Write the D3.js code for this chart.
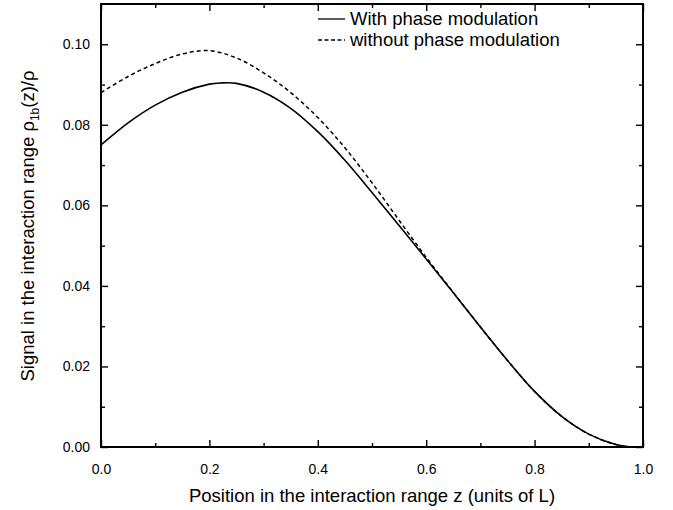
<!DOCTYPE html>
<html>
<head>
<meta charset="utf-8">
<script src="https://cdn.jsdelivr.net/npm/d3@7"></script>
<style>
  body { margin: 0; background: #fff; }
  text { font-family: "Liberation Sans", Arial, sans-serif; fill: #000; }
</style>
</head>
<body>
<div id="chart"></div>
<script>
// Signal curves (z in units of L)
const zWith = [0, 0.05, 0.1, 0.15, 0.2, 0.22, 0.25, 0.3, 0.35, 0.4, 0.45, 0.5, 0.55, 0.6, 0.65, 0.7, 0.75, 0.8, 0.85, 0.9, 0.95, 0.98, 1.0];
const withPM = [0.0750, 0.0805, 0.0849, 0.0881, 0.0901, 0.0904, 0.0903, 0.0881, 0.0841, 0.0783, 0.0712, 0.0632, 0.0550, 0.0467, 0.0383, 0.0298, 0.0215, 0.0138, 0.0076, 0.0032, 0.0006, 0.0, 0.0];

const zWithout = [0, 0.05, 0.1, 0.15, 0.2, 0.25, 0.3, 0.35, 0.4, 0.45, 0.5, 0.55, 0.6, 0.65, 0.7, 0.75, 0.8, 0.85, 0.9, 0.95, 0.98, 1.0];
const withoutPM = [0.0880, 0.0920, 0.0952, 0.0976, 0.0984, 0.0966, 0.0929, 0.0880, 0.0818, 0.0743, 0.0656, 0.0563, 0.0471, 0.0384, 0.0298, 0.0215, 0.0138, 0.0076, 0.0032, 0.0006, 0.0, 0.0];

const xTicks = [0, 0.2, 0.4, 0.6, 0.8, 1.0];
const yTicks = [0, 0.02, 0.04, 0.06, 0.08, 0.10];
const legendLabels = ["With phase modulation", "without phase modulation"];

const width = 673, height = 510;
const margin = { top: 4, left: 101 };
const innerW = 643 - margin.left;
const innerH = 447 - margin.top;

const svg = d3.select("#chart").append("svg")
    .attr("width", width)
    .attr("height", height);

const g = svg.append("g")
    .attr("transform", `translate(${margin.left},${margin.top})`);

const x = d3.scaleLinear().domain([0, 1]).range([0, innerW]);
const y = d3.scaleLinear().domain([0, 0.11]).range([innerH, 0]);

// minor ticks sit half way between the labelled ones
const xMinor = d3.range(0.1, 1.0, 0.2);
const yMinor = d3.range(0.01, 0.11, 0.02);

function axisStyle(sel) {
    sel.select(".domain").remove();
    sel.selectAll("line").attr("stroke", "#000").attr("stroke-width", 1.4);
    sel.selectAll("text").style("font-size", "14px");
}

// bottom
g.append("g")
    .attr("transform", `translate(0,${innerH})`)
    .call(d3.axisBottom(x).tickValues(xTicks).tickFormat(d3.format(".1f")).tickSizeInner(-7).tickPadding(17))
    .call(axisStyle);
g.append("g")
    .attr("transform", `translate(0,${innerH})`)
    .call(d3.axisBottom(x).tickValues(xMinor).tickFormat("").tickSizeInner(-4))
    .call(axisStyle);
// top
g.append("g")
    .call(d3.axisTop(x).tickValues(xTicks).tickFormat("").tickSizeInner(-7))
    .call(axisStyle);
g.append("g")
    .call(d3.axisTop(x).tickValues(xMinor).tickFormat("").tickSizeInner(-4))
    .call(axisStyle);
// left
g.append("g")
    .call(d3.axisLeft(y).tickValues(yTicks).tickFormat(d3.format(".2f")).tickSizeInner(-7).tickPadding(11))
    .call(axisStyle);
g.append("g")
    .call(d3.axisLeft(y).tickValues(yMinor).tickFormat("").tickSizeInner(-4))
    .call(axisStyle);
// right
g.append("g")
    .attr("transform", `translate(${innerW},0)`)
    .call(d3.axisRight(y).tickValues(yTicks).tickFormat("").tickSizeInner(-7))
    .call(axisStyle);
g.append("g")
    .attr("transform", `translate(${innerW},0)`)
    .call(d3.axisRight(y).tickValues(yMinor).tickFormat("").tickSizeInner(-4))
    .call(axisStyle);

// frame
g.append("rect")
    .attr("width", innerW)
    .attr("height", innerH)
    .attr("fill", "none")
    .attr("stroke", "#000")
    .attr("stroke-width", 2);

const line = d3.line()
    .x(d => x(d[0]))
    .y(d => y(d[1]))
    .curve(d3.curveCatmullRom.alpha(0.5));

g.append("path")
    .datum(zWithout.map((z, i) => [z, withoutPM[i]]))
    .attr("d", line)
    .attr("fill", "none")
    .attr("stroke", "#000")
    .attr("stroke-width", 1.5)
    .attr("stroke-dasharray", "4,3");

g.append("path")
    .datum(zWith.map((z, i) => [z, withPM[i]]))
    .attr("d", line)
    .attr("fill", "none")
    .attr("stroke", "#000")
    .attr("stroke-width", 1.6);

// legend
const legend = svg.append("g").attr("transform", "translate(318,19)");
legendLabels.forEach((lab, i) => {
    legend.append("line")
        .attr("x1", 0).attr("x2", 27)
        .attr("y1", i * 21).attr("y2", i * 21)
        .attr("stroke", "#000")
        .attr("stroke-width", 1.3)
        .attr("stroke-dasharray", i === 1 ? "4,2.5" : null);
    legend.append("text")
        .attr("x", 32)
        .attr("y", i * 21 + 6)
        .style("font-size", "18.5px")
        .text(lab);
});

// axis titles
svg.append("text")
    .attr("x", margin.left + innerW / 2)
    .attr("y", 502)
    .attr("text-anchor", "middle")
    .style("font-size", "18.5px")
    .text("Position in the interaction range z (units of L)");

const yTitle = svg.append("text")
    .attr("transform", "translate(34,226) rotate(-90)")
    .attr("text-anchor", "middle")
    .style("font-size", "18.5px");
yTitle.append("tspan").text("Signal in the interaction range ρ");
yTitle.append("tspan").attr("dy", 5).style("font-size", "12px").text("1b");
yTitle.append("tspan").attr("dy", -5).text("(z)/ρ");
</script>
</body>
</html>
